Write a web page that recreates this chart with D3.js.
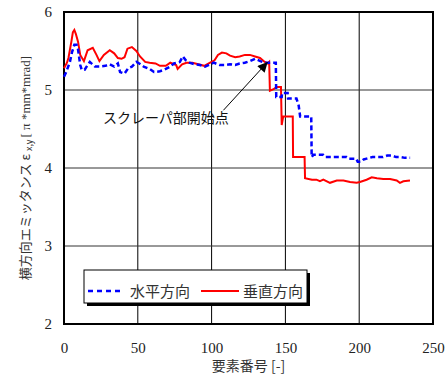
<!DOCTYPE html>
<meta charset="utf-8">
<style>
body { margin: 0; background: #fff; }
.tick-label { font-family: "Liberation Serif", "Times New Roman", serif; font-size: 15px; fill: #222; }
.jp { font-family: "Noto Sans CJK JP", sans-serif; fill: #333; }
</style>
<body>
<div id="chart"></div>
<script src="https://cdn.jsdelivr.net/npm/d3@7"></script>
<script>
// element index vs emittance
var redX = [0, 2, 3, 5, 6, 7, 8, 9.5, 11, 13.5, 16, 19.5, 22, 24, 27, 31, 34, 36.5, 39, 41, 43, 46, 49, 51.5,
  55, 58, 62, 65, 69, 72, 76, 77, 80, 83, 87, 91, 95, 99, 102, 104.3, 107, 110, 112.5, 116, 119, 122.6,
  126, 129.4, 132.8, 136, 138, 139, 139.5, 142, 144, 147, 147.5, 148.5, 155, 155.2, 163, 163.3, 168,
  171, 173.4, 175.7, 180.2, 184.8, 189.3, 193.8, 198.3, 200.5, 205, 208.5, 212, 216.3, 220.9, 225.4,
  227.6, 229.9, 234.4];
var redY = [5.28, 5.35, 5.41, 5.62, 5.74, 5.77, 5.72, 5.62, 5.45, 5.37, 5.51, 5.54, 5.45, 5.37, 5.45, 5.51,
  5.47, 5.41, 5.40, 5.42, 5.53, 5.55, 5.50, 5.43, 5.36, 5.35, 5.34, 5.31, 5.31, 5.35, 5.32, 5.27, 5.33,
  5.35, 5.35, 5.33, 5.31, 5.35, 5.38, 5.45, 5.48, 5.47, 5.44, 5.42, 5.43, 5.45, 5.45, 5.43, 5.41, 5.36,
  5.34, 5.36, 4.99, 5.01, 5.04, 5.04, 4.55, 4.66, 4.66, 4.14, 4.14, 3.87, 3.85, 3.85, 3.83, 3.85, 3.81,
  3.84, 3.84, 3.82, 3.81, 3.82, 3.85, 3.88, 3.87, 3.86, 3.86, 3.84, 3.81, 3.83, 3.84];

var blueX = [0, 1.5, 4, 5.5, 7, 8.5, 9.5, 11, 12, 14, 16, 17.5, 21, 24, 28, 31, 34, 36.5, 38, 41, 43.5, 46,
  49, 51, 54, 58, 61, 65, 68, 72, 74.5, 78.5, 80.5, 82.5, 85, 88.5, 92, 95.5, 99, 101.5, 105.5, 109,
  112.5, 116, 119, 122.5, 126, 129.5, 133, 136, 143.5, 143.8, 147.5, 147.8, 151.5, 151.8, 157.5, 159,
  160, 167.5, 167.8, 169, 175.5, 177, 182.5, 191.5, 193, 198, 199, 201, 203, 205, 209, 216, 219, 222,
  225, 228, 231, 234.5];
var blueY = [5.17, 5.23, 5.36, 5.49, 5.58, 5.58, 5.52, 5.32, 5.26, 5.26, 5.32, 5.36, 5.30, 5.30, 5.31, 5.33,
  5.30, 5.34, 5.23, 5.21, 5.28, 5.30, 5.36, 5.34, 5.30, 5.27, 5.23, 5.24, 5.26, 5.30, 5.34, 5.36, 5.43,
  5.38, 5.35, 5.33, 5.32, 5.30, 5.33, 5.35, 5.32, 5.32, 5.33, 5.32, 5.34, 5.35, 5.37, 5.40, 5.37, 5.35,
  5.35, 4.91, 4.91, 4.96, 4.96, 4.89, 4.89, 4.80, 4.66, 4.66, 4.14, 4.17, 4.17, 4.14, 4.14, 4.14, 4.12,
  4.12, 4.08, 4.08, 4.11, 4.12, 4.14, 4.14, 4.16, 4.16, 4.14, 4.14, 4.13, 4.13];

var xTicks = [0, 50, 100, 150, 200, 250];
var yTicks = [2, 3, 4, 5, 6];
var legendNames = ["水平方向", "垂直方向"];

var W = 448, H = 376;
var margin = {top: 12, right: 15, bottom: 52, left: 64};
var width = W - margin.left - margin.right,
    height = H - margin.top - margin.bottom;

var svg = d3.select("#chart").append("svg")
  .attr("width", W).attr("height", H);

var x = d3.scaleLinear().domain([0, 250]).range([margin.left, margin.left + width]);
var y = d3.scaleLinear().domain([2, 6]).range([margin.top + height, margin.top]);

// grid
svg.append("g").selectAll("line")
  .data(xTicks.slice(1, -1)).enter().append("line")
  .attr("x1", d => x(d)).attr("x2", d => x(d))
  .attr("y1", y(6)).attr("y2", y(2))
  .attr("stroke", "#000").attr("stroke-width", 1);
svg.append("g").selectAll("line")
  .data(yTicks.slice(1, -1)).enter().append("line")
  .attr("x1", x(0)).attr("x2", x(250))
  .attr("y1", d => y(d)).attr("y2", d => y(d))
  .attr("stroke", "#333").attr("stroke-width", 1);

// axes, labels only
var xAxis = svg.append("g")
  .attr("transform", "translate(0," + (y(2) + 18) + ")")
  .call(d3.axisBottom(x).tickValues(xTicks).tickFormat(d3.format("d")).tickSize(0).tickPadding(0));
var yAxis = svg.append("g")
  .attr("transform", "translate(" + (x(0) - 12) + ",0)")
  .call(d3.axisLeft(y).tickValues(yTicks).tickFormat(d3.format("d")).tickSize(0).tickPadding(0));
[xAxis, yAxis].forEach(function(a) {
  a.select(".domain").remove();
  a.selectAll("text").attr("class", "tick-label");
});
xAxis.selectAll("text").attr("dy", "0.71em");

// frame
svg.append("rect")
  .attr("x", x(0)).attr("y", y(6))
  .attr("width", x(250) - x(0)).attr("height", y(2) - y(6))
  .attr("fill", "none").attr("stroke", "#000").attr("stroke-width", 2);

// lines
function pts(xs, ys) { return xs.map((d, i) => [d, ys[i]]); }
var line = d3.line().x(d => x(d[0])).y(d => y(d[1]));

svg.append("path").datum(pts(redX, redY))
  .attr("d", line).attr("fill", "none")
  .attr("stroke", "#ff0000").attr("stroke-width", 2);
svg.append("path").datum(pts(blueX, blueY))
  .attr("d", line).attr("fill", "none")
  .attr("stroke", "#0000ff").attr("stroke-width", 2.5)
  .attr("stroke-dasharray", "5,3");

// annotation
svg.append("defs").append("marker")
  .attr("id", "arr").attr("viewBox", "0 0 10 10")
  .attr("refX", 10).attr("refY", 5)
  .attr("markerWidth", 12).attr("markerHeight", 10)
  .attr("markerUnits", "userSpaceOnUse")
  .attr("orient", "auto")
  .append("path").attr("d", "M0,0 L10,5 L0,10 z").attr("fill", "#000");
svg.append("line")
  .attr("x1", x(108)).attr("y1", y(4.74))
  .attr("x2", x(138)).attr("y2", y(5.36))
  .attr("stroke", "#000").attr("stroke-width", 1)
  .attr("marker-end", "url(#arr)");
svg.append("text").attr("class", "jp")
  .attr("x", 103).attr("y", 123)
  .style("font-size", "14px").style("fill", "#111")
  .text("スクレーパ部開始点");

// legend
var lg = svg.append("g").attr("transform", "translate(84,270)");
lg.append("rect").attr("x", 3).attr("y", 3).attr("width", 223).attr("height", 33).attr("fill", "#000");
lg.append("rect").attr("width", 223).attr("height", 33)
  .attr("fill", "#fff").attr("stroke", "#000").attr("stroke-width", 1);
lg.append("line").attr("x1", 4).attr("x2", 38).attr("y1", 21).attr("y2", 21)
  .attr("stroke", "#0000ff").attr("stroke-width", 2.5).attr("stroke-dasharray", "5,4");
lg.append("line").attr("x1", 117).attr("x2", 155).attr("y1", 21).attr("y2", 21)
  .attr("stroke", "#ff0000").attr("stroke-width", 2);
lg.selectAll("text.leg").data(legendNames).enter().append("text")
  .attr("class", "jp leg")
  .attr("x", (d, i) => i === 0 ? 46 : 159)
  .attr("y", 27)
  .style("font-size", "15px")
  .text(d => d);

// axis titles
svg.append("text").attr("class", "jp")
  .attr("x", x(125)).attr("y", 371)
  .attr("text-anchor", "middle")
  .style("font-size", "14px")
  .text("要素番号 [-]");

var yt = svg.append("text").attr("class", "jp")
  .attr("transform", "translate(30,168) rotate(-90)")
  .attr("text-anchor", "middle")
  .style("font-size", "13px");
yt.append("tspan").text("横方向エミッタンス ε ");
yt.append("tspan").style("font-size", "9px").attr("dy", 2).text(" x,y ");
yt.append("tspan").attr("dy", -2).style("font-family", "Liberation Serif, serif").text("[ π *mm*mrad]");
</script>
</body>
